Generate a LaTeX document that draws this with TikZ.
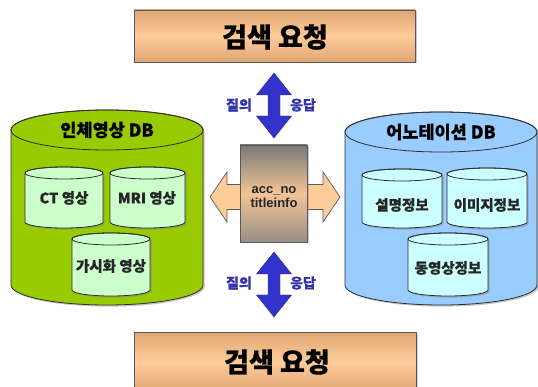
\documentclass[tikz,border=0pt]{standalone}
\usepackage{fontspec}
\setmainfont{Noto Sans CJK KR}[FakeBold=0.6]
\newfontfamily\latinbold{Liberation Sans}
\usetikzlibrary{shadows}

\definecolor{dbgreen}{HTML}{99CC00}
\definecolor{subgreen}{HTML}{CCFFCC}
\definecolor{dbblue}{HTML}{99CCFF}
\definecolor{subblue}{HTML}{CCFFFF}
\definecolor{peach}{HTML}{FFCC99}
\definecolor{peachdark}{HTML}{DDA673}
\definecolor{arrowblue}{HTML}{3333CC}
\definecolor{labelblue}{HTML}{3333AA}
\definecolor{edge}{HTML}{303030}

% cylinder: {x left}{x right}{y top}{y bottom}{cap radius}{fill colour}
\newcommand\dbcyl[6]{%
  \pgfmathsetmacro\cylrx{(#2-#1)/2}%
  \pgfmathsetmacro\cylcx{(#1+#2)/2}%
  \pgfmathsetmacro\cyltop{#3+#5}%
  \pgfmathsetmacro\cylbot{#4-#5}%
  \path[fill=#6, draw=edge, line width=0.8pt,
        drop shadow={shadow xshift=1.6pt, shadow yshift=-1.6pt, opacity=0.45}]
    (#1,\cyltop) -- (#1,\cylbot)
    arc[start angle=180, end angle=360, x radius=\cylrx pt, y radius=#5 pt]
    -- (#2,\cyltop)
    arc[start angle=0, end angle=180, x radius=\cylrx pt, y radius=#5 pt]
    -- cycle;
  \draw[edge, line width=0.8pt] (\cylcx,\cyltop) ellipse[x radius=\cylrx pt, y radius=#5 pt];
}

\tikzset{
  reqbox/.style={draw=edge!80, line width=0.8pt, top color=peachdark, bottom color=peachdark,
    middle color=peach,
    drop shadow={shadow xshift=2pt, shadow yshift=-1.5pt, opacity=0.4}},
  reqtext/.style={font=\bfseries\fontsize{27}{30}\selectfont, text=black},
  dbtitle/.style={font=\bfseries\fontsize{17.5}{19}\selectfont, text=black},
  subtitle/.style={font=\bfseries\fontsize{14.5}{16}\selectfont, text=black!85},
  qalabel/.style={font=\bfseries\fontsize{14}{16}\selectfont, text=labelblue},
  vdouble/.style={fill=arrowblue, draw=arrowblue!70!black, line width=0.4pt},
  hdouble/.style={fill=peach, draw=edge!80, line width=0.7pt},
}

\begin{document}
\begin{tikzpicture}[x=1pt, y=-1pt]
\useasboundingbox (0,0) rectangle (538,387);

% search request boxes
\path[reqbox] (134,10) rectangle (415,62);
\node[reqtext] (reqtop) at (275,37) {검색 요청};
\path[reqbox] (134,332) rectangle (416,392);
\node[reqtext] (reqbot) at (277,362) {검색 요청};

% body image database
\dbcyl{11}{203}{110}{305}{20}{dbgreen}
\node[dbtitle] (bodydb) at (107,130) {인체영상 DB};
\dbcyl{25}{103}{167}{228}{6}{subgreen}
\node[subtitle] (ct) at (64,198) {CT 영상};
\dbcyl{110}{185}{167}{228}{6}{subgreen}
\node[subtitle] (mri) at (147,198) {MRI 영상};
\dbcyl{72}{150}{233}{296}{6}{subgreen}
\node[subtitle] (vis) at (111,266) {가시화 영상};

% annotation database
\dbcyl{345}{537}{112}{305}{20}{dbblue}
\node[dbtitle] (anndb) at (441,132) {어노테이션 DB};
\dbcyl{362}{442}{169}{228}{6}{subblue}
\node[subtitle] (desc) at (402,205) {설명정보};
\dbcyl{447}{527}{168}{228}{6}{subblue}
\node[subtitle] (img) at (487,205) {이미지정보};
\dbcyl{408}{488}{233}{296}{6}{subblue}
\node[subtitle] (mov) at (448,268) {동영상정보};

% exchange arrow and key box
\path[hdouble] (210,197) -- (227,172) -- (227,184.5) -- (323,184.5) -- (323,172)
  -- (340,197) -- (323,222) -- (323,209.5) -- (227,209.5) -- (227,222) -- cycle;
\path[draw=edge!80, line width=0.8pt, top color=gray!95!black, bottom color=gray!80!peach,
      middle color=peach!90!gray,
      drop shadow={shadow xshift=1.5pt, shadow yshift=-1.5pt, opacity=0.35}]
  (240,145) rectangle (307,242);
\node[font=\latinbold\bfseries\fontsize{13}{14}\selectfont, align=center, text=black!85]
  (keys) at (274,197) {acc\_no\\titleinfo};

% query / response arrows
\path[vdouble] (274,73) -- (291.5,95) -- (280,95) -- (280,116) -- (291.5,116) -- (274,138)
  -- (256.5,116) -- (268,116) -- (268,95) -- (256.5,95) -- cycle;
\path[vdouble] (274,252) -- (291.5,274) -- (280,274) -- (280,295) -- (291.5,295) -- (274,317)
  -- (256.5,295) -- (268,295) -- (268,274) -- (256.5,274) -- cycle;
\node[qalabel] (q1) at (239,105) {질의};
\node[qalabel] (r1) at (303,105) {응답};
\node[qalabel] (q2) at (239,283) {질의};
\node[qalabel] (r2) at (303,283) {응답};
\end{tikzpicture}
\end{document}
